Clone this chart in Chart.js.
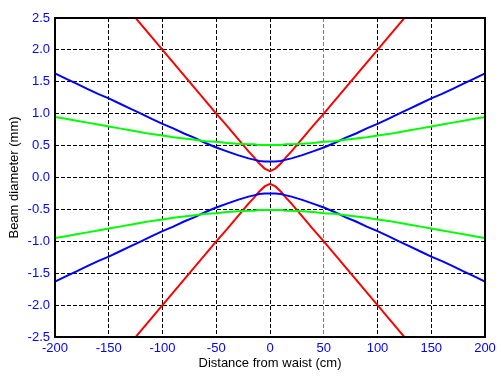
<!DOCTYPE html>
<html>
<head>
<meta charset="utf-8">
<script src="https://cdn.jsdelivr.net/npm/chart.js@4/dist/chart.umd.min.js"></script>
<style>
  html, body { margin: 0; padding: 0; background: #fff; }
  #wrap { width: 503px; height: 377px; }
</style>
</head>
<body>
<div id="wrap"><canvas id="BeamChart"></canvas></div>
<script>
// distance from waist (cm)
const distance = [-200, -190, -180, -170, -160, -150, -140, -130, -120, -110, -100, -90, -80, -70, -60, -50, -40, -30, -20, -15, -10, -5,
    0, 5, 10, 15, 20, 30, 40, 50, 60, 70, 80, 90, 100, 110, 120, 130, 140, 150, 160, 170, 180, 190, 200];

// beam diameter (mm)
const redUpper = [null, null, null, null, null, null, null, 2.60, 2.40, 2.20, 2.00, 1.80, 1.60, 1.40, 1.20, 1.00, 0.81, 0.61, 0.41, 0.32, 0.22, 0.14,
    0.10, 0.14, 0.22, 0.32, 0.41, 0.61, 0.81, 1.00, 1.20, 1.40, 1.60, 1.80, 2.00, 2.20, 2.40, 2.60, null, null, null, null, null, null, null];
const redLower = [null, null, null, null, null, null, null, -2.60, -2.40, -2.20, -2.00, -1.80, -1.60, -1.40, -1.20, -1.00, -0.81, -0.61, -0.41, -0.32, -0.22, -0.14,
    -0.10, -0.14, -0.22, -0.32, -0.41, -0.61, -0.81, -1.00, -1.20, -1.40, -1.60, -1.80, -2.00, -2.20, -2.40, -2.60, null, null, null, null, null, null, null];

const blueUpper = [1.63, 1.55, 1.47, 1.39, 1.31, 1.24, 1.16, 1.08, 1.00, 0.92, 0.84, 0.77, 0.69, 0.62, 0.54, 0.47, 0.41, 0.35, 0.30, 0.28, 0.26, 0.25,
    0.25, 0.25, 0.26, 0.28, 0.30, 0.35, 0.41, 0.47, 0.54, 0.62, 0.69, 0.77, 0.84, 0.92, 1.00, 1.08, 1.16, 1.24, 1.31, 1.39, 1.47, 1.55, 1.63];
const blueLower = [-1.63, -1.55, -1.47, -1.39, -1.31, -1.24, -1.16, -1.08, -1.00, -0.92, -0.84, -0.77, -0.69, -0.62, -0.54, -0.47, -0.41, -0.35, -0.30, -0.28, -0.26, -0.25,
    -0.25, -0.25, -0.26, -0.28, -0.30, -0.35, -0.41, -0.47, -0.54, -0.62, -0.69, -0.77, -0.84, -0.92, -1.00, -1.08, -1.16, -1.24, -1.31, -1.39, -1.47, -1.55, -1.63];

const greenUpper = [0.95, 0.92, 0.89, 0.86, 0.83, 0.80, 0.77, 0.74, 0.71, 0.68, 0.66, 0.63, 0.61, 0.59, 0.57, 0.56, 0.54, 0.53, 0.52, 0.52, 0.51, 0.51,
    0.51, 0.51, 0.51, 0.52, 0.52, 0.53, 0.54, 0.56, 0.57, 0.59, 0.61, 0.63, 0.66, 0.68, 0.71, 0.74, 0.77, 0.80, 0.83, 0.86, 0.89, 0.92, 0.95];
const greenLower = [-0.95, -0.92, -0.89, -0.86, -0.83, -0.80, -0.77, -0.74, -0.71, -0.68, -0.66, -0.63, -0.61, -0.59, -0.57, -0.56, -0.54, -0.53, -0.52, -0.52, -0.51, -0.51,
    -0.51, -0.51, -0.51, -0.52, -0.52, -0.53, -0.54, -0.56, -0.57, -0.59, -0.61, -0.63, -0.66, -0.68, -0.71, -0.74, -0.77, -0.80, -0.83, -0.86, -0.89, -0.92, -0.95];

const xTitle = "Distance from waist (cm)";
const yTitle = "Beam diameter (mm)";

function toPoints(values) {
    return distance.map(function (d, i) { return { x: d, y: values[i] }; });
}

function line(values, color) {
    return {
        data: toPoints(values),
        borderColor: color,
        borderWidth: 2,
        pointRadius: 0,
        tension: 0,
        spanGaps: false,
    };
}

// solid frame round the plot area
const framePlugin = {
    id: 'frame',
    afterDatasetsDraw(chart) {
        const a = chart.chartArea;
        const c = chart.ctx;
        c.save();
        c.strokeStyle = '#000';
        c.lineWidth = 2;
        c.strokeRect(a.left, a.top, a.right - a.left, a.bottom - a.top);
        c.restore();
    }
};

const font = { family: "'Liberation Sans', Arial, sans-serif", size: 13 };

new Chart(document.getElementById('BeamChart'), {
    type: 'line',
    data: {
        datasets: [
            line(greenUpper, '#00ff00'),
            line(greenLower, '#00ff00'),
            line(blueUpper, '#0000ff'),
            line(blueLower, '#0000ff'),
            line(redUpper, '#ff0000'),
            line(redLower, '#ff0000'),
        ]
    },
    options: {
        responsive: true,
        maintainAspectRatio: false,
        animation: false,
        layout: { padding: { top: 18, right: 18, left: 0, bottom: 0 } },
        plugins: { legend: { display: false }, tooltip: { enabled: false } },
        scales: {
            x: {
                type: 'linear',
                min: -200,
                max: 200,
                afterFit: function (s) { s.height = 40; },
                ticks: { stepSize: 50, color: '#0000ff', font: font, padding: 4, maxRotation: 0 },
                grid: {
                    color: function (ctx) { return ctx.tick && ctx.tick.value === 50 ? '#808080' : '#000'; },
                    lineWidth: 1,
                    drawTicks: false,
                },
                border: { display: false, dash: [4, 2] },
                title: { display: true, text: xTitle, color: '#000', font: font, padding: { top: 0, bottom: 6 } },
            },
            y: {
                min: -2.5,
                max: 2.5,
                afterFit: function (s) { s.width = 55; },
                ticks: {
                    stepSize: 0.5,
                    color: '#0000ff',
                    font: font,
                    padding: 5,
                    callback: function (v) { return v.toFixed(1); },
                },
                grid: { color: '#000', lineWidth: 1, drawTicks: false },
                border: { display: false, dash: [4, 2] },
                title: { display: true, text: yTitle, color: '#000', font: font, padding: { top: 7, bottom: 0 } },
            }
        }
    },
    plugins: [framePlugin]
});
</script>
</body>
</html>
